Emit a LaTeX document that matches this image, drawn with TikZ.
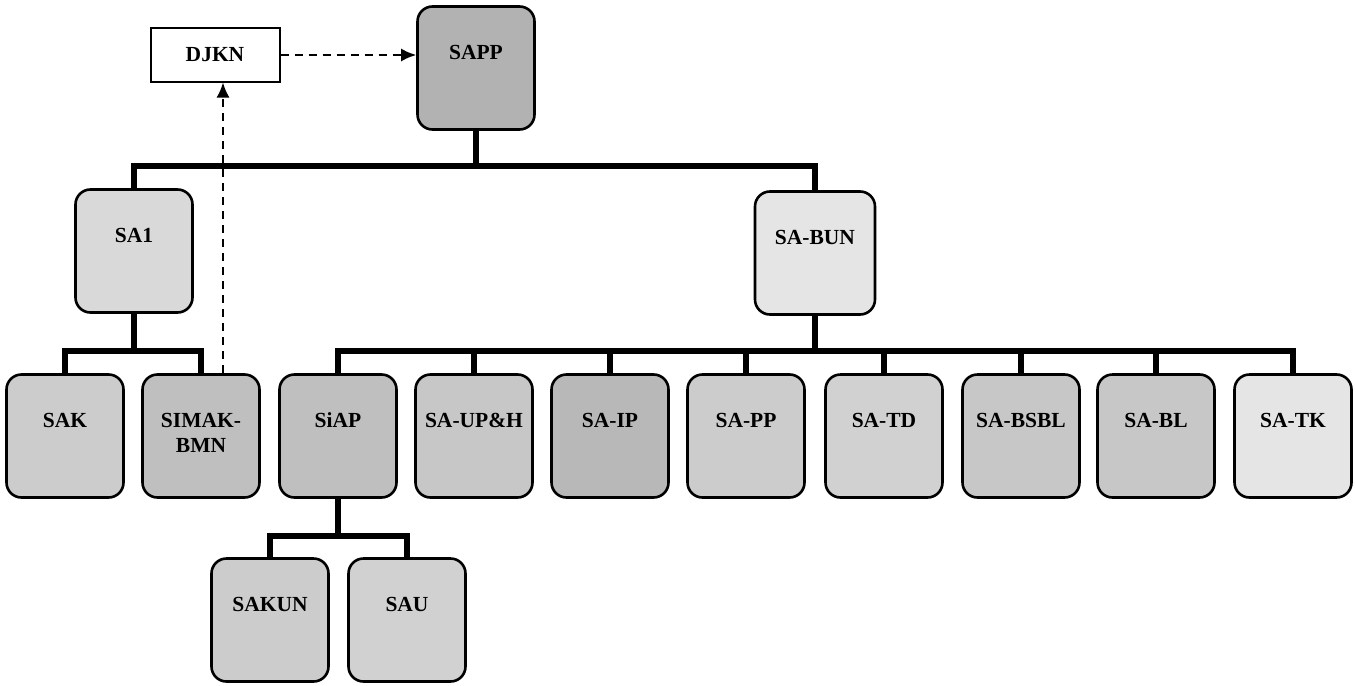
\documentclass[tikz,border=0pt]{standalone}
\usepackage{fontspec}
\setmainfont{Liberation Serif}
\usepackage[svgnames]{xcolor}
\usepackage{tikz}
\usetikzlibrary{positioning}
\usetikzlibrary{arrows.meta}
\def\mygray{black!20}
\def\mydark{black!30}
\def\mylight{black!10}
\begin{document}
\begin{tikzpicture}[x=1pt,y=-1pt,
  unitbox/.style={draw, line width=2.6pt, rounded corners=15pt, minimum width=117pt, minimum height=123pt,
    inner sep=0pt, font=\fontsize{21.5}{25}\selectfont\bfseries, text height=14pt, text depth=31pt},
  bus/.style={line width=5.5pt},
  dasharrow/.style={line width=2pt, dash pattern=on 8pt off 6pt, -{Latex[length=15pt,width=13pt]}}]
\useasboundingbox (0,0) rectangle (1356,685);
% level 1
\node [unitbox, fill=\mydark] (sapp) at (476,68) {SAPP};
\node [draw, line width=2pt, minimum width=129pt, minimum height=53pt, inner sep=0pt,
  font=\fontsize{21.5}{25}\selectfont\bfseries] (djkn) at (215,55) {DJKN};
% level 2
\node [unitbox, fill=black!15] (sa1) at (134,251) {SA1};
\node [unitbox, fill=\mylight, minimum width=120pt] (sabun) at (815,253) {SA-BUN};
% level 3
\node [unitbox, fill=\mygray] (sak) at (65,436) {SAK};
\node [unitbox, fill=black!25, align=center, text height=39pt, text depth=6pt] (simak) at (201,436) {SIMAK-\\BMN};
\node [unitbox, fill=black!25] (siap) at (338,436) {SiAP};
\node [unitbox, fill=black!22] (saup) at (474,436) {SA-UP\&H};
\node [unitbox, fill=black!28] (saip) at (610,436) {SA-IP};
\node [unitbox, fill=\mygray] (sapp2) at (746,436) {SA-PP};
\node [unitbox, fill=black!18] (satd) at (884,436) {SA-TD};
\node [unitbox, fill=black!22] (sabsbl) at (1021,436) {SA-BSBL};
\node [unitbox, fill=black!22] (sabl) at (1156,436) {SA-BL};
\node [unitbox, fill=\mylight] (satk) at (1293,436) {SA-TK};
% level 4
\node [unitbox, fill=\mygray] (sakun) at (270,620) {SAKUN};
\node [unitbox, fill=black!18] (sau) at (407,620) {SAU};
% bus heights
\coordinate (bustop) at (0,166);
\coordinate (busmid) at (0,351);
\coordinate (buslow) at (0,536);
% tree lines
\draw [bus] (sapp.south) -- (sapp.south |- bustop) -| (sa1.north);
\draw [bus] (sapp.south) -- (sapp.south |- bustop) -| (sabun.north);
\draw [bus] (sa1.south) -- (sa1.south |- busmid) -| (sak.north);
\draw [bus] (sa1.south) -- (sa1.south |- busmid) -| (simak.north);
\draw [bus] (sabun.south) -- (sabun.south |- busmid) -| (siap.north);
\draw [bus] (sabun.south) -- (sabun.south |- busmid) -| (saup.north);
\draw [bus] (sabun.south) -- (sabun.south |- busmid) -| (saip.north);
\draw [bus] (sabun.south) -- (sabun.south |- busmid) -| (sapp2.north);
\draw [bus] (sabun.south) -- (sabun.south |- busmid) -| (satd.north);
\draw [bus] (sabun.south) -- (sabun.south |- busmid) -| (sabsbl.north);
\draw [bus] (sabun.south) -- (sabun.south |- busmid) -| (sabl.north);
\draw [bus] (sabun.south) -- (sabun.south |- busmid) -| (satk.north);
\draw [bus] (siap.south) -- (siap.south |- buslow) -| (sakun.north);
\draw [bus] (siap.south) -- (siap.south |- buslow) -| (sau.north);
% dashed reporting lines
\draw [dasharrow] (djkn.east) -- (djkn.east -| sapp.west);
\draw [dasharrow] ([xshift=22pt]simak.north) -- ([xshift=22pt]simak.north |- djkn.south);
\end{tikzpicture}
\end{document}
